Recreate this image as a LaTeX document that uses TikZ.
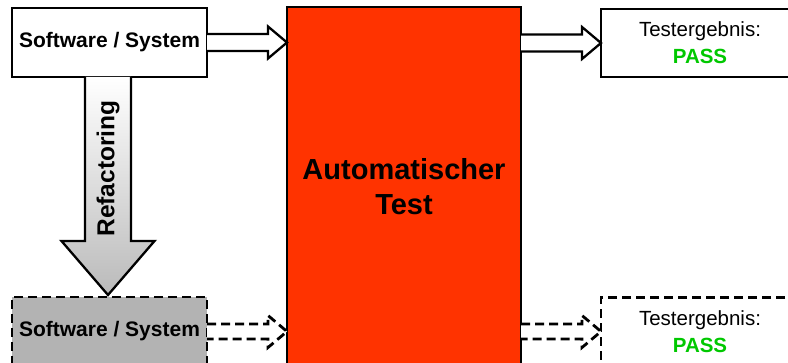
\documentclass[tikz,border=0pt]{standalone}
\usepackage{fontspec}
\setmainfont{Liberation Sans}
\usetikzlibrary{calc}
\definecolor{testred}{HTML}{FF3300}
\definecolor{passgreen}{HTML}{00C800}
\definecolor{boxgray}{HTML}{B3B3B3}

\begin{document}
\begin{tikzpicture}[x=1pt,y=-1pt,
  box/.style={draw=black,line width=2.3pt,rectangle,inner sep=0pt,outer sep=0pt,align=center},
  swbox/.style={box,fill=white,minimum width=195pt,minimum height=69pt,
    font=\fontsize{21}{25}\selectfont\bfseries},
  resbox/.style={box,fill=white,minimum width=198pt,minimum height=68pt,
    font=\fontsize{20.5}{27}\selectfont},
  dashbox/.style={line width=2.8pt,dash pattern=on 9pt off 5pt},
  hollow/.style={draw=black,line width=2.3pt,fill=white,line join=miter},
  refarrow/.style={draw=black,line width=2.3pt,top color=white,bottom color=black!27,line join=miter}]

\useasboundingbox (0,0) rectangle (788,363);
\clip (0,0) rectangle (788,363);

% central test block
\node[box,fill=testred,minimum width=234pt,minimum height=360pt,
  font=\fontsize{29}{35}\selectfont\bfseries] (test) at (404,187) {Automatischer\\Test};

% original and refactored system
\node[swbox] (sw1) at (109.5,42.5) {Software / System};
\node[swbox,fill=boxgray,dashbox] (sw2) at (109.5,331.5) {Software / System};

% test results
\node[resbox] (res1) at (700,43) {Testergebnis:\\\textbf{\textcolor{passgreen}{PASS}}};
\node[resbox,dashbox] (res2) at (700,331.5) {Testergebnis:\\\textbf{\textcolor{passgreen}{PASS}}};

% block arrows: system -> test
\coordinate (a1s) at (sw1.east);
\coordinate (a1e) at (test.west |- sw1.east);
\draw[hollow] ($(a1s)+(0,-8.5)$) -- ($(a1e)+(-19,-8.5)$) -- ($(a1e)+(-19,-16)$) -- (a1e)
  -- ($(a1e)+(-19,16)$) -- ($(a1e)+(-19,8.5)$) -- ($(a1s)+(0,8.5)$);

\coordinate (a2s) at (sw2.east);
\coordinate (a2e) at (test.west |- sw2.east);
\draw[hollow,dashbox] ($(a2s)+(0,-7.5)$) -- ($(a2e)+(-19,-7.5)$) -- ($(a2e)+(-19,-16)$) -- (a2e)
  -- ($(a2e)+(-19,16)$) -- ($(a2e)+(-19,7.5)$) -- ($(a2s)+(0,7.5)$);

% block arrows: test -> result
\coordinate (b1s) at (test.east |- res1.west);
\coordinate (b1e) at (res1.west);
\draw[hollow] ($(b1s)+(0,-8.5)$) -- ($(b1e)+(-19,-8.5)$) -- ($(b1e)+(-19,-16)$) -- (b1e)
  -- ($(b1e)+(-19,16)$) -- ($(b1e)+(-19,8.5)$) -- ($(b1s)+(0,8.5)$);

\coordinate (b2s) at (test.east |- res2.west);
\coordinate (b2e) at (res2.west);
\draw[hollow,dashbox] ($(b2s)+(0,-7.5)$) -- ($(b2e)+(-19,-7.5)$) -- ($(b2e)+(-19,-16)$) -- (b2e)
  -- ($(b2e)+(-19,16)$) -- ($(b2e)+(-19,7.5)$) -- ($(b2s)+(0,7.5)$);

% refactoring arrow
\coordinate (r1) at ($(sw1.south)+(-1.5,0)$);
\coordinate (r2) at ($(sw2.north)+(-1.5,-2)$);
\draw[refarrow] ($(r1)+(-23,0)$) -- ($(r2)+(-23,-54)$) -- ($(r2)+(-46.5,-54)$) -- (r2)
  -- ($(r2)+(46.5,-54)$) -- ($(r2)+(23,-54)$) -- ($(r1)+(23,0)$);
\node[rotate=90,font=\fontsize{24.5}{29}\selectfont\bfseries,inner sep=0pt] (reflabel)
  at ($(r1)!0.42!(r2)+(0,0)$) {Refactoring};

\end{tikzpicture}
\end{document}
